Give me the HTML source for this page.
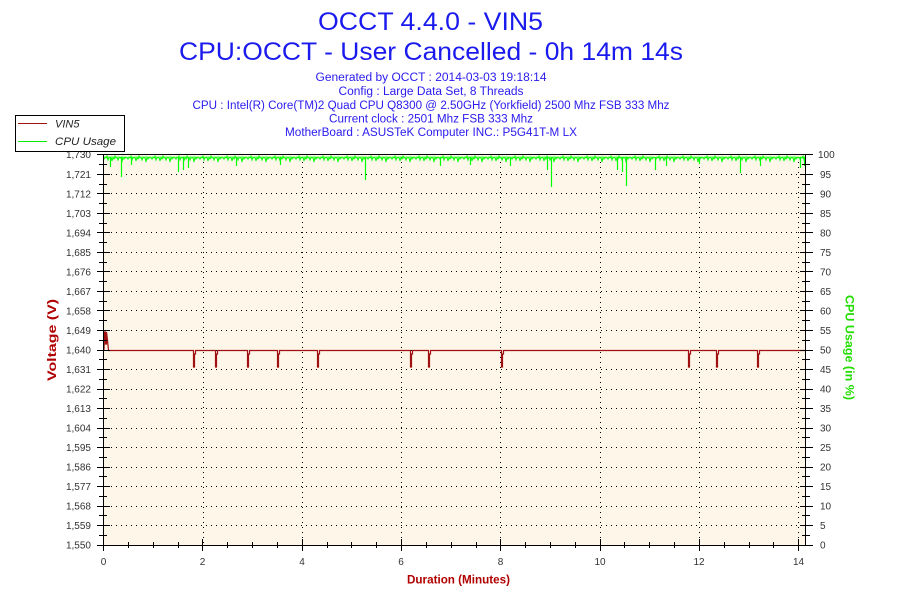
<!DOCTYPE html>
<html><head><meta charset="utf-8"><style>
html,body{margin:0;padding:0;background:#fff;}
svg{display:block;}
text{font-family:"Liberation Sans",Arial,sans-serif;}
</style></head><body>
<svg width="900" height="600" viewBox="0 0 900 600" xmlns="http://www.w3.org/2000/svg">
<defs>
<pattern id="cpu" x="103" y="154" width="24" height="14" patternUnits="userSpaceOnUse">
<polyline fill="none" stroke="#00ff00" stroke-width="1" points="0,3 1,5 2,3 3,4 4,2 5,6 6,3 7,4 8,3 9,7 10,3 11,5 12,2 13,4 14,3 15,6 16,3 17,4 18,3 19,8 20,3 21,5 22,3 23,4 24,3"/>
</pattern>
</defs>
<rect x="0" y="0" width="900" height="600" fill="#fff"/>
<!-- titles -->
<text x="430.5" y="30" font-size="25" fill="#1a1aee" text-anchor="middle" textLength="225" lengthAdjust="spacingAndGlyphs">OCCT 4.4.0 - VIN5</text>
<text x="431" y="60" font-size="25" fill="#1a1aee" text-anchor="middle" textLength="504" lengthAdjust="spacingAndGlyphs">CPU:OCCT - User Cancelled - 0h 14m 14s</text>
<g font-size="11.5" fill="#2a1aee" text-anchor="middle">
<text x="431" y="81" textLength="231" lengthAdjust="spacingAndGlyphs">Generated by OCCT : 2014-03-03 19:18:14</text>
<text x="431" y="95" textLength="185" lengthAdjust="spacingAndGlyphs">Config : Large Data Set, 8 Threads</text>
<text x="431" y="109" textLength="477" lengthAdjust="spacingAndGlyphs">CPU : Intel(R) Core(TM)2 Quad CPU Q8300 @ 2.50GHz (Yorkfield) 2500 Mhz FSB 333 Mhz</text>
<text x="431" y="122.5" textLength="204" lengthAdjust="spacingAndGlyphs">Current clock : 2501 Mhz FSB 333 Mhz</text>
<text x="431" y="136" textLength="292" lengthAdjust="spacingAndGlyphs">MotherBoard : ASUSTeK Computer INC.: P5G41T-M LX</text>
</g>
<!-- plot bg -->
<rect x="103.5" y="154.5" width="702" height="391" fill="#fdf6e9"/>
<!-- grid -->
<g stroke="#000" stroke-width="1" stroke-dasharray="1 4" fill="none">
<path d="M106,174.5H805 M106,193.5H805 M106,213.5H805 M106,232.5H805 M106,252.5H805 M106,271.5H805 M106,291.5H805 M106,310.5H805 M106,330.5H805 M106,350.5H805 M106,369.5H805 M106,389.5H805 M106,408.5H805 M106,428.5H805 M106,447.5H805 M106,467.5H805 M106,486.5H805 M106,506.5H805 M106,525.5H805"/>
<path d="M203.5,157V545 M302.5,157V545 M401.5,157V545 M500.5,157V545 M600.5,157V545 M699.5,157V545 M798.5,157V545"/>
</g>
<!-- CPU series -->
<rect x="104" y="154" width="702" height="14" fill="url(#cpu)"/>
<path stroke="#00ff00" stroke-width="1.2" fill="none" d="M110.5,157V167 M121.5,157V177 M131.5,157V165 M178.5,157V172 M183.5,157V170 M188.5,157V168 M236.5,157V166 M280.5,157V165 M365.5,157V180 M440.5,157V166 M470.5,157V165 M510.5,157V166 M547.5,157V170 M551.5,157V187 M617.5,157V170 M622.5,157V172 M626.5,157V186 M655.5,157V170 M666.5,157V166 M699.5,157V164 M740.5,157V173 M760.5,157V166 M800.5,157V168 M804.5,157V166"/>
<!-- VIN5 series -->
<path stroke="#a01010" stroke-width="1.2" fill="none" d="M104,350.5 L104.5,332 L105.5,332 L105.5,344 L106.5,344 L106.5,332 L107.5,340 L108.5,350.5 H193.5 V367 H194.5 V354 H195.5 V350.5 H215.5 V367 H216.5 V354 H217.5 V350.5 H247.5 V367 H248.5 V354 H249.5 V350.5 H277.5 V367 H278.5 V354 H279.5 V350.5 H317.5 V367 H318.5 V354 H319.5 V350.5 H410.5 V367 H411.5 V354 H412.5 V350.5 H428.5 V367 H429.5 V354 H430.5 V350.5 H501.5 V367 H502.5 V354 H503.5 V350.5 H688.5 V367 H689.5 V354 H690.5 V350.5 H716.5 V367 H717.5 V354 H718.5 V350.5 H757.5 V367 H758.5 V354 H759.5 V350.5 H806"/>
<!-- axes -->
<g stroke="#000" stroke-width="1" fill="none">
<path d="M103.5,154V546 M103,545.5H806 M103,154.5H806 M805.5,154V546"/>
<path d="M97,545.5H110 M97,525.5H110 M97,506.5H110 M97,486.5H110 M97,467.5H110 M97,447.5H110 M97,428.5H110 M97,408.5H110 M97,389.5H110 M97,369.5H110 M97,350.5H110 M97,330.5H110 M97,310.5H110 M97,291.5H110 M97,271.5H110 M97,252.5H110 M97,232.5H110 M97,213.5H110 M97,193.5H110 M97,174.5H110 M97,154.5H110"/>
<path d="M99,535.5H107 M99,515.5H107 M99,496.5H107 M99,476.5H107 M99,457.5H107 M99,437.5H107 M99,418.5H107 M99,398.5H107 M99,379.5H107 M99,359.5H107 M99,340.5H107 M99,320.5H107 M99,301.5H107 M99,281.5H107 M99,262.5H107 M99,242.5H107 M99,223.5H107 M99,203.5H107 M99,184.5H107 M99,164.5H107"/>
<path d="M800,545.5H813 M800,525.5H813 M800,506.5H813 M800,486.5H813 M800,467.5H813 M800,447.5H813 M800,428.5H813 M800,408.5H813 M800,389.5H813 M800,369.5H813 M800,350.5H813 M800,330.5H813 M800,310.5H813 M800,291.5H813 M800,271.5H813 M800,252.5H813 M800,232.5H813 M800,213.5H813 M800,193.5H813 M800,174.5H813 M800,154.5H813"/>
<path d="M802,535.5H810 M802,515.5H810 M802,496.5H810 M802,476.5H810 M802,457.5H810 M802,437.5H810 M802,418.5H810 M802,398.5H810 M802,379.5H810 M802,359.5H810 M802,340.5H810 M802,320.5H810 M802,301.5H810 M802,281.5H810 M802,262.5H810 M802,242.5H810 M802,223.5H810 M802,203.5H810 M802,184.5H810 M802,164.5H810"/>
<path d="M103.5,539V551 M202.5,539V551 M302.5,539V551 M401.5,539V551 M500.5,539V551 M600.5,539V551 M699.5,539V551 M798.5,539V551"/>
<path d="M128.5,542V548 M153.5,542V548 M178.5,542V548 M227.5,542V548 M252.5,542V548 M277.5,542V548 M327.5,542V548 M351.5,542V548 M376.5,542V548 M426.5,542V548 M451.5,542V548 M476.5,542V548 M525.5,542V548 M550.5,542V548 M575.5,542V548 M624.5,542V548 M649.5,542V548 M674.5,542V548 M724.5,542V548 M749.5,542V548 M773.5,542V548"/>
</g>
<!-- left labels -->
<g font-size="10" fill="#333" text-anchor="end">
<text x="91" y="548.5">1,550</text><text x="91" y="529">1,559</text><text x="91" y="509.5">1,568</text><text x="91" y="490">1,577</text><text x="91" y="470.5">1,586</text><text x="91" y="451">1,595</text><text x="91" y="431.5">1,604</text><text x="91" y="412">1,613</text><text x="91" y="392.5">1,622</text><text x="91" y="373">1,631</text><text x="91" y="353.5">1,640</text><text x="91" y="334">1,649</text><text x="91" y="314.5">1,658</text><text x="91" y="295">1,667</text><text x="91" y="275.5">1,676</text><text x="91" y="256">1,685</text><text x="91" y="236.5">1,694</text><text x="91" y="217">1,703</text><text x="91" y="197.5">1,712</text><text x="91" y="178">1,721</text><text x="91" y="158">1,730</text>
</g>
<!-- right labels -->
<g font-size="10" fill="#333" text-anchor="start">
<text x="820" y="548.5">0</text><text x="820" y="529">5</text><text x="820" y="509.5">10</text><text x="820" y="490">15</text><text x="820" y="470.5">20</text><text x="820" y="451">25</text><text x="820" y="431.5">30</text><text x="820" y="412">35</text><text x="820" y="392.5">40</text><text x="820" y="373">45</text><text x="820" y="353.5">50</text><text x="820" y="334">55</text><text x="820" y="314.5">60</text><text x="820" y="295">65</text><text x="820" y="275.5">70</text><text x="820" y="256">75</text><text x="820" y="236.5">80</text><text x="820" y="217">85</text><text x="820" y="197.5">90</text><text x="820" y="178">95</text><text x="818" y="158">100</text>
</g>
<!-- bottom labels -->
<g font-size="10" fill="#333" text-anchor="middle">
<text x="103.5" y="565">0</text><text x="202.5" y="565">2</text><text x="302" y="565">4</text><text x="401" y="565">6</text><text x="500.5" y="565">8</text><text x="600" y="565">10</text><text x="699" y="565">12</text><text x="798.5" y="565">14</text>
</g>
<!-- axis titles -->
<text x="458.5" y="583.5" font-size="12" font-weight="bold" fill="#b00000" text-anchor="middle" textLength="103" lengthAdjust="spacingAndGlyphs">Duration (Minutes)</text>
<text transform="translate(56,340) rotate(-90)" x="0" y="0" font-size="12" font-weight="bold" fill="#b00000" text-anchor="middle" textLength="82" lengthAdjust="spacingAndGlyphs">Voltage (V)</text>
<text transform="translate(845.5,347.5) rotate(90)" x="0" y="0" font-size="12" font-weight="bold" fill="#22dd00" text-anchor="middle" textLength="105" lengthAdjust="spacingAndGlyphs">CPU Usage (in %)</text>
<!-- legend -->
<rect x="15.5" y="115.5" width="109" height="36" fill="#fff" stroke="#000" stroke-width="1"/>
<path d="M18,123.5H47" stroke="#a01010" stroke-width="1"/>
<path d="M18,141.5H47" stroke="#00ee00" stroke-width="1"/>
<text x="55" y="127.5" font-size="11" font-style="italic" fill="#222">VIN5</text>
<text x="55" y="145" font-size="11" font-style="italic" fill="#222" textLength="61" lengthAdjust="spacingAndGlyphs">CPU Usage</text>
</svg>
</body></html>
